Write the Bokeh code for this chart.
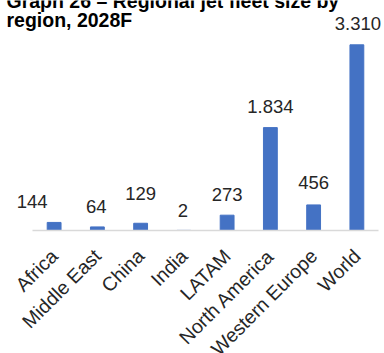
import math

from bokeh.core.properties import value
from bokeh.embed import file_html
from bokeh.models import ColumnDataSource, FixedTicker, Label, LabelSet, Range1d
from bokeh.plotting import figure
from bokeh.resources import INLINE

# Regional jet fleet size by region, 2028 forecast
regions = ["Africa", "Middle East", "China", "India", "LATAM",
           "North America", "Western Europe", "World"]
fleet = [144, 64, 129, 2, 273, 1834, 456, 3310]
fleet_labels = ["144", "64", "129", "2", "273", "1.834", "456", "3.310"]

# per-label nudges (px, up is positive) for the value labels above the bars
label_dx = [-22, -1, 0, -1, 0, 0, 0, 1]
label_dy = [21, 20, 30, 20, 21, 21.5, 22, 21]

FONT = "Liberation Sans"
pos = list(range(len(regions)))

src = ColumnDataSource(dict(pos=pos, fleet=fleet, label=fleet_labels,
                            dx=label_dx, dy=label_dy))

W, H = 384, 353
slot = 43.25           # px per category slot
bar_area = 230         # px from the top of the canvas down to the baseline
y_top = 4100           # value shown at the top edge
y_bottom = -y_top * (H - bar_area) / bar_area

# the frame fills the canvas; the category axis sits on y = 0 inside it
p = figure(x_range=Range1d(-0.5 - 32 / slot, len(regions) - 0.5 + 6 / slot),
           y_range=Range1d(y_bottom, y_top), width=W, height=H,
           output_backend="svg", toolbar_location=None,
           min_border_left=0, min_border_right=0, min_border_top=0,
           min_border_bottom=0)

p.vbar(x="pos", top="fleet", width=0.32, color="#4472C4", source=src)
p.add_layout(LabelSet(x="pos", y="fleet", text="label", x_offset="dx",
                      y_offset="dy", source=src, text_align="center",
                      text_baseline="middle", text_font=value(FONT),
                      text_font_size="18.5px", text_color="#262626"))

ax = p.xaxis[0]
ax.fixed_location = 0
ax.bounds = (-0.5, len(regions) - 0.5)
ax.ticker = FixedTicker(ticks=pos)
ax.major_label_overrides = {i: r for i, r in zip(pos, regions)}
ax.major_label_orientation = math.pi / 4
ax.major_tick_line_color = None
ax.minor_tick_line_color = None
ax.axis_line_color = "#D9D9D9"
ax.axis_line_width = 1.5
ax.major_label_text_font = FONT
ax.major_label_text_font_size = "19.5px"
ax.major_label_text_color = "#262626"
ax.major_label_standoff = 16
p.yaxis.visible = False
p.xgrid.grid_line_color = None
p.ygrid.grid_line_color = None
p.outline_line_color = None

# two-line heading, placed from the frame's lower-left corner
for txt, y in (("Graph 26 \u2013 Regional jet fleet size by", H),
               ("region, 2028F", H - 19.7)):
    p.add_layout(Label(x=6, y=y, x_units="screen", y_units="screen", text=txt,
                       text_font=FONT, text_font_style="bold",
                       text_font_size="19.5px", text_color="#000000",
                       text_baseline="alphabetic"))

open("out.html", "w").write(file_html(p, INLINE))
